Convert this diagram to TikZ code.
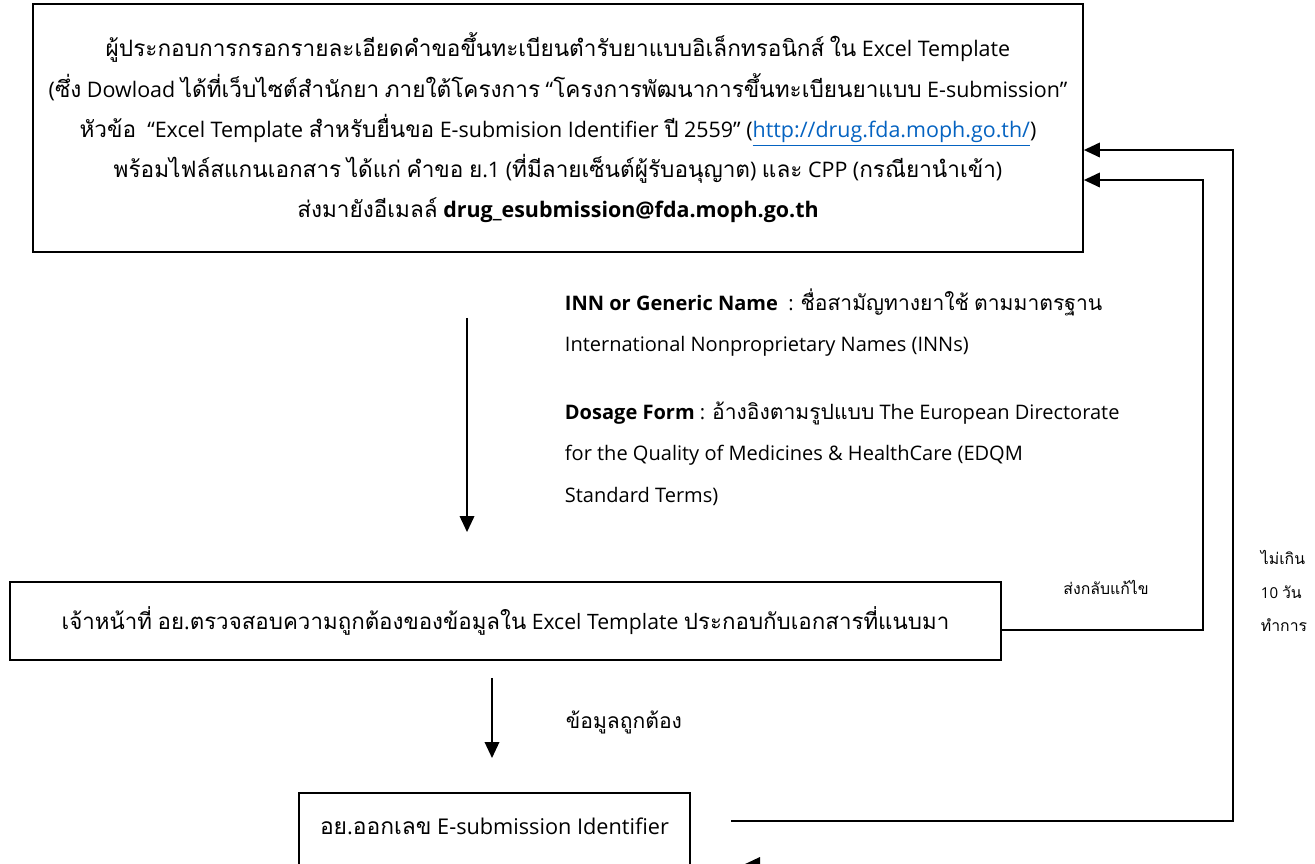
\documentclass[tikz,border=0pt]{standalone}
\usepackage{fontspec}
\usepackage{xcolor}
\usetikzlibrary{arrows.meta,positioning}
\setmainfont{Open Sans}[Scale=0.95]
\newfontfamily\thaifont{Loma}[Script=Thai]
\definecolor{linkblue}{RGB}{5,99,193}
% Thai letters in Loma, the rest in Open Sans
\XeTeXinterchartokenstate=1
\newXeTeXintercharclass\thaicls
\newcount\thaic
\thaic="0E00
\loop
	\XeTeXcharclass\thaic=\thaicls
	\ifnum\thaic<"0E7F \advance\thaic by 1 \repeat
\XeTeXinterchartoks 0 \thaicls = {\thaifont}
\XeTeXinterchartoks 4095 \thaicls = {\thaifont}
\XeTeXinterchartoks \thaicls 0 = {\rmfamily}
\XeTeXinterchartoks \thaicls 4095 = {\rmfamily}

\begin{document}
\begin{tikzpicture}[x=0.02cm,y=-0.02cm,
		box/.style={draw,line width=1.1pt,inner sep=0pt,align=center},
		flow/.style={line width=1.1pt,-{Triangle[length=0.32cm,width=0.29cm]}},
		every node/.style={font=\fontsize{12}{22.8}\selectfont}]
			\useasboundingbox (0,0) rectangle (1315,863);
			% boxes
			\node [box, minimum width=21cm, minimum height=4.96cm, font=\fontsize{12.85}{22.9}\selectfont] (b1) at (558,128) {%
				ผู้ประกอบการกรอกรายละเอียดคำขอขึ้นทะเบียนตำรับยาแบบอิเล็กทรอนิกส์ ใน Excel Template\\
				(ซึ่ง Dowload ได้ที่เว็บไซต์สำนักยา ภายใต้โครงการ “โครงการพัฒนาการขึ้นทะเบียนยาแบบ E-submission”\\
				หัวข้อ~ “Excel Template สำหรับยื่นขอ E-submision Identifier ปี 2559” (\textcolor{linkblue}{\underline{http://drug.fda.moph.go.th/}})\\
				พร้อมไฟล์สแกนเอกสาร ได้แก่ คำขอ ย.1 (ที่มีลายเซ็นต์ผู้รับอนุญาต) และ CPP (กรณียานำเข้า)\\
				ส่งมายังอีเมลล์ \textbf{drug\_esubmission@fda.moph.go.th}};
			\node [box, minimum width=19.82cm, minimum height=1.56cm, font=\fontsize{12.7}{22.8}\selectfont] (b2) at (505.5,621) {%
				เจ้าหน้าที่ อย.ตรวจสอบความถูกต้องของข้อมูลใน Excel Template ประกอบกับเอกสารที่แนบมา};
			\node [box, anchor=north, minimum width=7.82cm, text height=0.84cm, text depth=2cm, font=\fontsize{13}{22.8}\selectfont] (b3) at (494.5,792) {%
				อย.ออกเลข E-submission Identifier};
			% notes
			\node [anchor=west, align=left, font=\fontsize{12}{23.3}\selectfont] (n1) at (559,322.5) {%
				\textbf{INN or Generic Name}~ : ชื่อสามัญทางยาใช้ ตามมาตรฐาน\\
				International Nonproprietary Names (INNs)};
			\node [anchor=west, align=left, font=\fontsize{12}{23.6}\selectfont] (n2) at (559,453.5) {%
				\textbf{Dosage Form} : อ้างอิงตามรูปแบบ The European Directorate\\
				for the Quality of Medicines \& HealthCare (EDQM\\
				Standard Terms)};
			\node (l1) at (624,722) {ข้อมูลถูกต้อง};
			\node [font=\fontsize{9}{19.3}\selectfont] (l2) at (1106,587) {ส่งกลับแก้ไข};
			\node [anchor=west, align=left, font=\fontsize{9}{19.3}\selectfont] (l3) at (1255,591) {ไม่เกิน\\ 10 วัน\\ ทำการ};
			%
			\coordinate (i1) at (1203,180);
			\coordinate (o1) at (731,821);
			\coordinate (o3) at (1233,150);
			\coordinate (r1) at (900,864.5);
			\coordinate (r2) at (744,864.5);
			%
			\draw [flow, shorten <=1.3cm, shorten >=0.98cm] ([xshift=-1.82cm]b1.south) -- ([xshift=-1.82cm]b1.south |- b2.north);
			\draw [flow, shorten <=0.34cm, shorten >=0.68cm] ([xshift=-0.27cm]b2.south) -- ([xshift=-0.27cm]b2.south |- b3.north);
			\draw [flow] ([yshift=-0.18cm]b2.east) -| (i1) -- (b1.east |- i1);
			\draw [flow] (o1) -| (o3) -- (b1.east |- o3);
			\draw [flow] (r1) -- (r2);
		\end{tikzpicture}
\end{document}
